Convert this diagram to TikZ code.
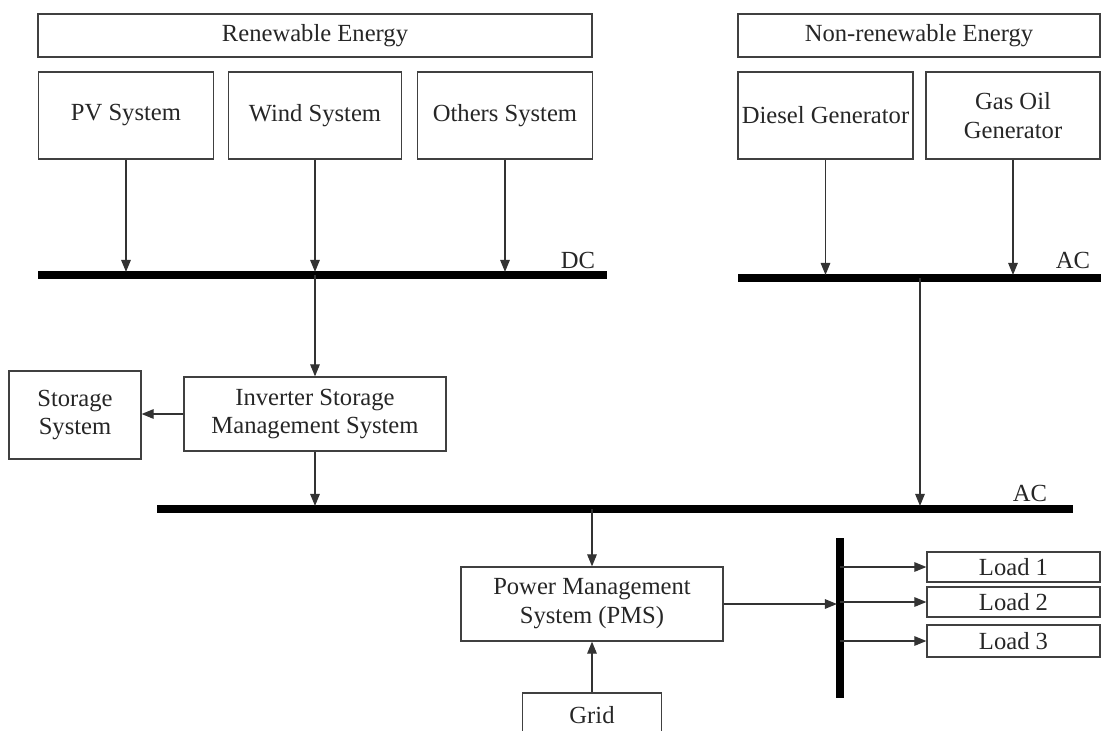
\documentclass[tikz,border=0pt]{standalone}
\usepackage{fontspec}
\setmainfont{Liberation Serif}
\usetikzlibrary{arrows.meta}

\begin{document}
\begin{tikzpicture}[x=0.025cm,y=-0.025cm]
\tikzstyle{every node}+=[inner sep=0pt, text=black!85, font=\fontsize{17.5}{20.5}\selectfont]
\tikzstyle{box}=[draw=black!75, line width=0.9pt, rectangle, align=center]
\tikzstyle{bus}=[black, line width=5pt]
\tikzstyle{conn}=[black!80, line width=0.8pt, -{Triangle[length=0.3cm,width=0.24cm]}]
\tikzstyle{tobus}=[conn, shorten >=2.2pt]
\useasboundingbox (0,0) rectangle (1101,731);
\clip (0,0) rectangle (1101,731);
\node [box, minimum width=13.85cm, minimum height=1.075cm] (renew) at (315,35.5) {Renewable Energy};
\node [box, minimum width=9.05cm, minimum height=1.075cm] (nonrenew) at (919,35.5) {Non-renewable Energy};
\node [box, minimum width=4.375cm, minimum height=2.175cm] (pv) at (126,115.5) {PV System};
\node [box, minimum width=4.325cm, minimum height=2.175cm] (wind) at (315,115.5) {Wind System};
\node [box, minimum width=4.375cm, minimum height=2.175cm] (others) at (505,115.5) {Others System};
\node [box, minimum width=4.375cm, minimum height=2.175cm] (diesel) at (825.5,115.5) {Diesel Generator};
\node [box, minimum width=4.35cm, minimum height=2.175cm] (gas) at (1013,115.5) {Gas Oil\\Generator};
\node [box, minimum width=6.55cm, minimum height=1.85cm] (inv) at (315,414) {Inverter Storage\\Management System};
\node [box, minimum width=3.3cm, minimum height=2.2cm] (storage) at (75,415) {Storage\\System};
\node [box, minimum width=6.55cm, minimum height=1.85cm] (pms) at (592,604) {Power Management\\System (PMS)};
\node [box, minimum width=3.475cm, minimum height=1.1cm] (grid) at (592,715) {Grid};
\node [box, minimum width=4.325cm, minimum height=0.75cm] (load1) at (1013.5,567) {Load 1};
\node [box, minimum width=4.325cm, minimum height=0.75cm] (load2) at (1013.5,602) {Load 2};
\node [box, minimum width=4.325cm, minimum height=0.8cm] (load3) at (1013.5,641) {Load 3};
\coordinate (dcL) at (38,275);
\coordinate (dcR) at (607,275);
\coordinate (acTL) at (738,278);
\coordinate (acTR) at (1110,278);
\coordinate (acL) at (157,509);
\coordinate (acR) at (1073,509);
\coordinate (ldT) at (840,538);
\coordinate (ldB) at (840,698);
\coordinate (drop) at (920,278);
\draw [bus] (dcL) -- (dcR);
\draw [bus] (acTL) -- (acTR);
\draw [bus] (acL) -- (acR);
\draw [bus] (ldT) -- (ldB);
\node (dclbl) at (578,260) {DC};
\node (actlbl) at (1073,260) {AC};
\node (aclbl) at (1030,493) {AC};
\draw [tobus] (pv) -- (pv |- dcL);
\draw [tobus] (wind) -- (wind |- dcL);
\draw [tobus] (others) -- (others |- dcL);
\draw [tobus] (diesel) -- (diesel |- acTL);
\draw [tobus] (gas) -- (gas |- acTL);
\draw [tobus] (drop) -- (drop |- acL);
\draw [conn] (wind |- dcL) -- (inv);
\draw [conn] (inv.west) -- (inv.west -| storage.east);
\draw [tobus] (inv) -- (inv |- acL);
\draw [conn] (pms |- acL) -- (pms);
\draw [conn] (grid) -- (pms);
\draw [tobus] (pms) -- (pms -| ldT);
\draw [conn] (ldT |- load1) -- (load1);
\draw [conn] (ldT |- load2) -- (load2);
\draw [conn] (ldT |- load3) -- (load3);
\end{tikzpicture}
\end{document}
